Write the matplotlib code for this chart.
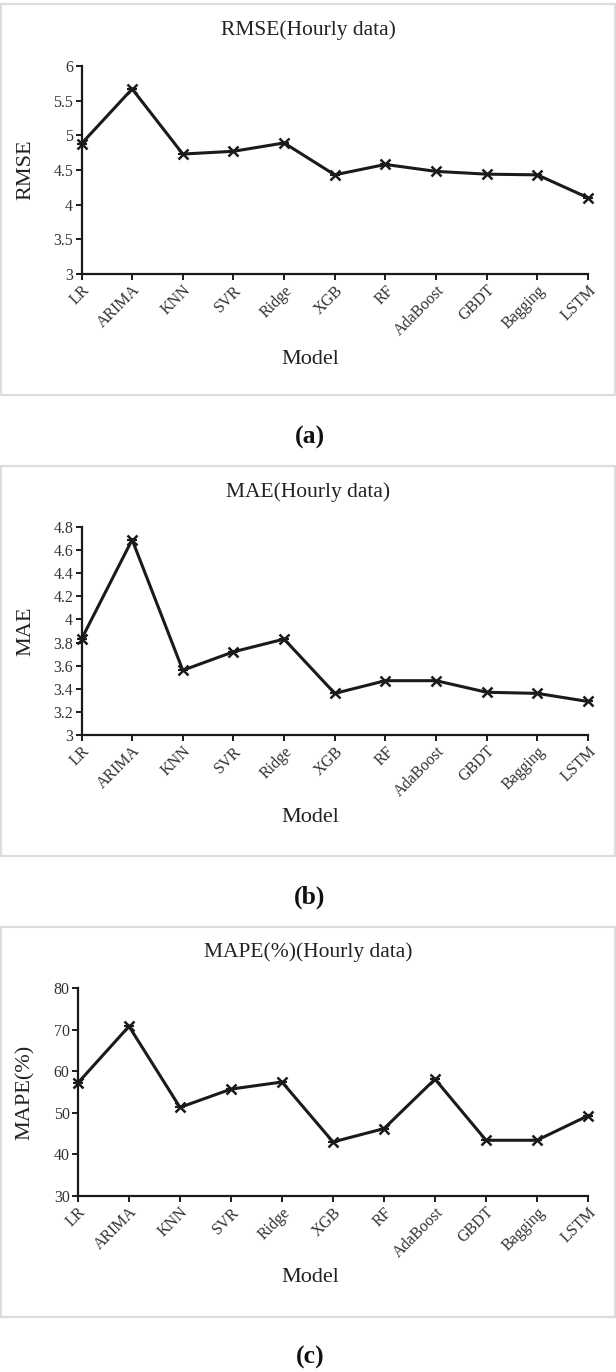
import matplotlib
matplotlib.use("Agg")
import matplotlib.pyplot as plt
from matplotlib.patches import Rectangle

plt.rcParams['font.family'] = ['Liberation Serif', 'DejaVu Serif']

modelos = ['LR', 'ARIMA', 'KNN', 'SVR', 'Ridge', 'XGB', 'RF',
           'AdaBoost', 'GBDT', 'Bagging', 'LSTM']

rmse = [4.88, 5.67, 4.73, 4.77, 4.89, 4.43, 4.58, 4.48, 4.44, 4.43, 4.10]
mae = [3.83, 4.69, 3.56, 3.72, 3.83, 3.36, 3.47, 3.47, 3.37, 3.36, 3.29]
mape = [57.2, 70.8, 51.3, 55.7, 57.4, 43.0, 46.2, 58.1, 43.4, 43.4, 49.3]

rmse_ticks = [3, 3.5, 4, 4.5, 5, 5.5, 6]
mae_ticks = [3, 3.2, 3.4, 3.6, 3.8, 4, 4.2, 4.4, 4.6, 4.8]
mape_ticks = [30, 40, 50, 60, 70, 80]

W, H = 616, 1372
fig = plt.figure(figsize=(W / 100, H / 100), dpi=100)


def fy(py):
    return 1 - py / H


def panel(valores, ticks, titulo, ylabel, letra, caja, ax_top, ax_bot, ax_left, y_title, y_model, y_letra):
    # caja gris alrededor del panel
    fig.patches.append(Rectangle((1 / W, fy(caja[1])), 614 / W, (caja[1] - caja[0]) / H,
                                 transform=fig.transFigure, fill=False,
                                 edgecolor='#dcdcdc', linewidth=1.6))
    ax = fig.add_axes([ax_left / W, fy(ax_bot), (588 - ax_left) / W, (ax_bot - ax_top) / H])
    x = range(len(modelos))
    ax.plot(x, valores, color='#1a1a1a', linewidth=2.2, marker='x',
            markersize=7.5, markeredgewidth=1.8, clip_on=False, zorder=3)
    ax.plot(x, valores, linestyle='none', color='#1a1a1a', marker='_',
            markersize=7, markeredgewidth=1.5, clip_on=False, zorder=3)
    ax.set_xlim(0, len(modelos) - 1)
    ax.set_ylim(ticks[0], ticks[-1])
    ax.set_yticks(ticks)
    ax.set_yticklabels([f'{t:g}' for t in ticks], fontsize=11.5, color='#333333')
    ax.set_xticks(list(x))
    ax.set_xticklabels(modelos, rotation=45, ha='right', rotation_mode='anchor',
                       fontsize=11.5, color='#333333')
    for s in ['top', 'right']:
        ax.spines[s].set_visible(False)
    for s in ['left', 'bottom']:
        ax.spines[s].set_linewidth(1.6)
        ax.spines[s].set_color('#1a1a1a')
    ax.tick_params(direction='out', length=4, width=1.4, color='#1a1a1a', pad=2)
    ax.set_ylabel(ylabel, fontsize=16, color='#222222')
    ax.yaxis.set_label_coords((35 - ax_left) / (588 - ax_left), 0.5)
    fig.text(0.5, fy(y_title), titulo, ha='center', va='center', fontsize=15.5, color='#222222')
    fig.text(0.503, fy(y_model), 'Model', ha='center', va='center', fontsize=16, color='#222222')
    fig.text(0.503, fy(y_letra), letra, ha='center', va='center', fontsize=18.5,
             fontweight='bold', color='#111111')


panel(rmse, rmse_ticks, 'RMSE(Hourly data)', 'RMSE', '(a)', (4, 395),
      66, 274, 81.5, 30, 360, 437)
panel(mae, mae_ticks, 'MAE(Hourly data)', 'MAE', '(b)', (466, 856),
      527, 735, 81.5, 492, 818, 897)
panel(mape, mape_ticks, 'MAPE(%)(Hourly data)', 'MAPE(%)', '(c)', (927, 1317),
      988, 1196, 78, 952, 1277, 1357)

fig.savefig('out.png', dpi=100, facecolor='white')
